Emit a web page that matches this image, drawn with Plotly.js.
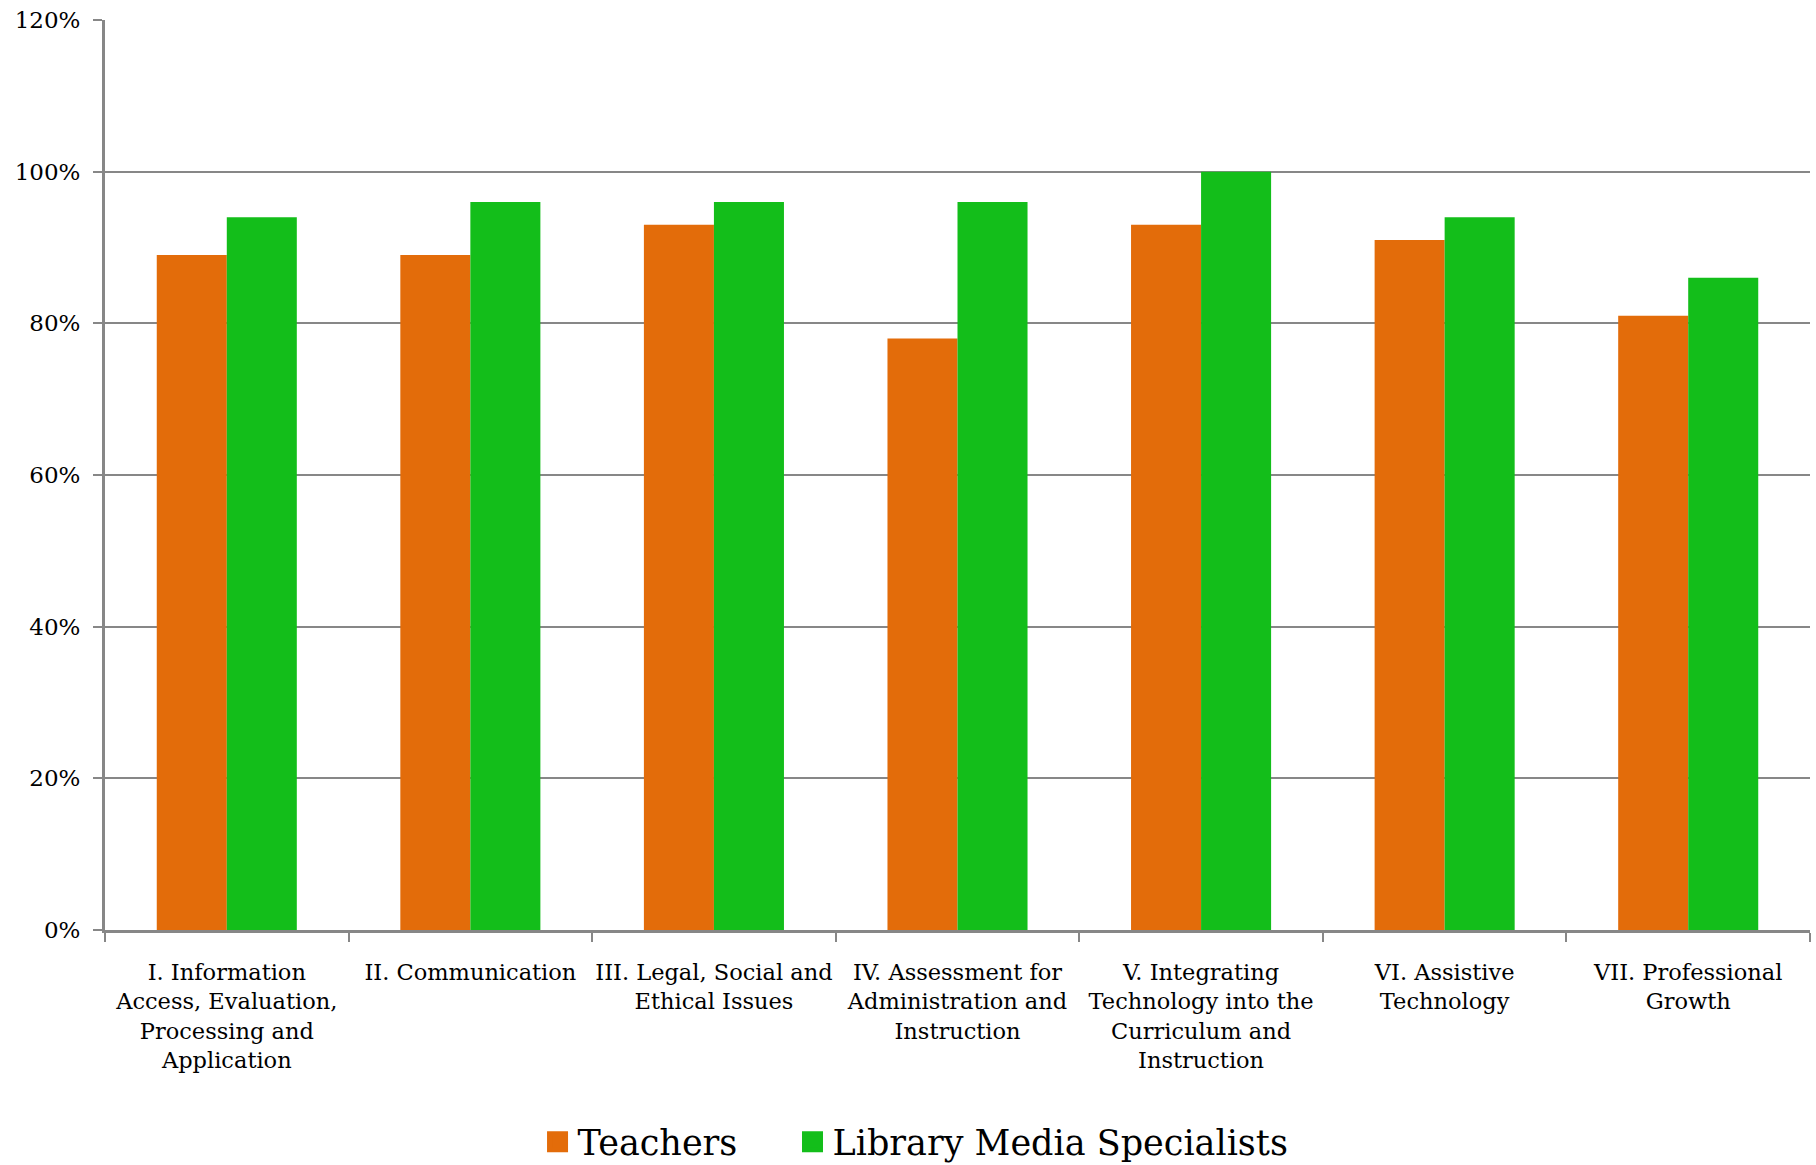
<!DOCTYPE html>
<html>
<head>
<meta charset="utf-8">
<script src="https://cdn.plot.ly/plotly-3.0.1.min.js"></script>
<style>
  html, body { margin: 0; padding: 0; background: #fff; }
  #chart { width: 1816px; height: 1165px; }
</style>
</head>
<body>
<div id="chart"></div>
<script>
const categories = [
  "I. Information<br>Access, Evaluation,<br>Processing and<br>Application",
  "II. Communication",
  "III. Legal, Social and<br>Ethical Issues",
  "IV. Assessment for<br>Administration and<br>Instruction",
  "V. Integrating<br>Technology into the<br>Curriculum and<br>Instruction",
  "VI. Assistive<br>Technology",
  "VII. Professional<br>Growth"
];
const teachers = [89, 89, 93, 78, 93, 91, 81];
const libraryMediaSpecialists = [94, 96, 96, 96, 100, 94, 86];
const seriesNames = ["Teachers", "Library Media Specialists"];
const seriesColors = ["#E36C0A", "#13BE1A"];
const yTickValues = [0, 20, 40, 60, 80, 100, 120];
const yTickLabels = ["0%", "20%", "40%", "60%", "80%", "100%", "120%"];

const FONT = "'DejaVu Serif', 'Liberation Serif', serif";

const traces = [
  {
    type: "bar", name: seriesNames[0], x: categories, y: teachers,
    marker: { color: seriesColors[0] }, showlegend: false, hoverinfo: "x+y"
  },
  {
    type: "bar", name: seriesNames[1], x: categories, y: libraryMediaSpecialists,
    marker: { color: seriesColors[1] }, showlegend: false, hoverinfo: "x+y"
  },
  // legend-only entries (larger square swatches)
  {
    type: "scatter", mode: "markers", name: seriesNames[0], x: [null], y: [null],
    legend: "legend",
    marker: { symbol: "square", size: 16, color: seriesColors[0], line: { color: seriesColors[0], width: 5 } }
  },
  {
    type: "scatter", mode: "markers", name: seriesNames[1], x: [null], y: [null],
    legend: "legend2",
    marker: { symbol: "square", size: 16, color: seriesColors[1], line: { color: seriesColors[1], width: 5 } }
  }
];

const legendCommon = {
  orientation: "h",
  xref: "container", xanchor: "left",
  yref: "container", y: 0.0197, yanchor: "middle",
  font: { family: FONT, size: 35, color: "#000000" },
  bgcolor: "rgba(0,0,0,0)",
  itemwidth: 30
};

const layout = {
  width: 1816, height: 1165,
  margin: { l: 105, r: 6, t: 20, b: 235, pad: 0 },
  paper_bgcolor: "#ffffff", plot_bgcolor: "#ffffff",
  font: { family: FONT, color: "#000000", size: 22 },
  barmode: "group",
  bargap: 0.425,
  bargroupgap: 0,
  showlegend: true,
  legend: Object.assign({}, legendCommon, { x: 0.296 }),
  legend2: Object.assign({}, legendCommon, { x: 0.4364 }),
  xaxis: {
    type: "category",
    categoryorder: "array", categoryarray: categories,
    showline: true, linecolor: "#878787", linewidth: 3,
    ticks: "outside", tickson: "boundaries", ticklen: 9, tickwidth: 2, tickcolor: "#878787",
    showgrid: false, zeroline: false,
    tickfont: { family: FONT, size: 22.5, color: "#000000" },
    tickangle: 0,
    ticklabelstandoff: 20,
    automargin: false,
    fixedrange: true
  },
  yaxis: {
    range: [0, 120],
    tickmode: "array",
    tickvals: yTickValues,
    ticktext: yTickLabels,
    showline: true, linecolor: "#878787", linewidth: 3,
    ticks: "outside", ticklen: 9, tickwidth: 2, tickcolor: "#878787",
    showgrid: true, gridcolor: "#878787", gridwidth: 2,
    zeroline: false,
    tickfont: { family: FONT, size: 23, color: "#000000" },
    ticklabelstandoff: 8,
    automargin: false,
    fixedrange: true
  }
};

Plotly.newPlot("chart", traces, layout, { displayModeBar: false, staticPlot: true });
</script>
</body>
</html>
